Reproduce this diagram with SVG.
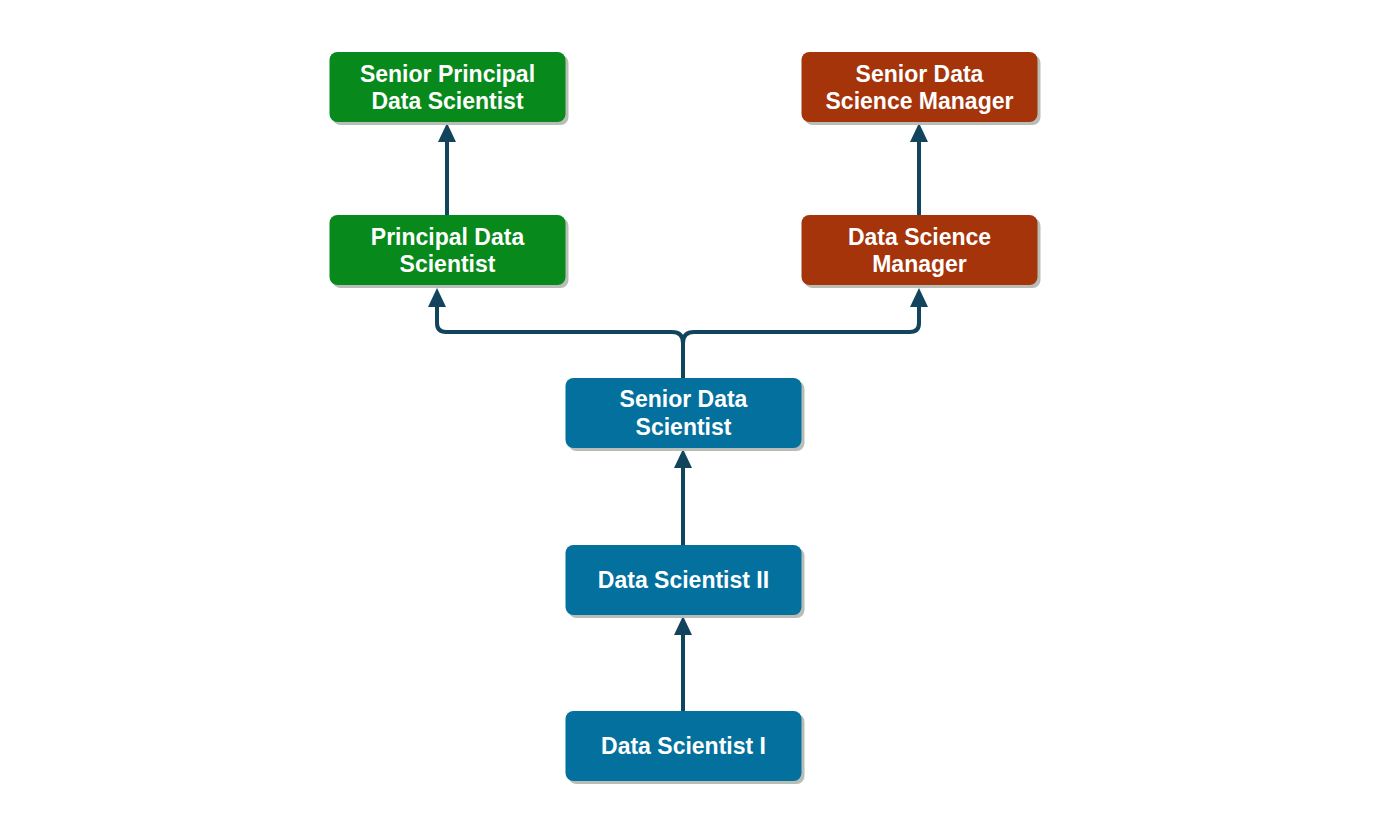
<svg xmlns="http://www.w3.org/2000/svg" width="1400" height="816" viewBox="0 0 1400 816">
<style>
.sh{fill:#b9bdb8}
.g{fill:#07891b}
.r{fill:#a5340a}
.b{fill:#04709d}
text{font-family:"Liberation Sans",Arial,Helvetica,sans-serif;font-weight:bold;font-size:23px;fill:#ffffff;text-anchor:middle}
.c{fill:none;stroke:#12455d;stroke-width:4}
.ah{fill:#12455d}
</style>
<defs>
<marker id="arr" viewBox="0 0 18 18" refX="9" refY="1" markerWidth="18" markerHeight="18" markerUnits="userSpaceOnUse" orient="auto-start-reverse">
<path class="ah" d="M0,18 L9,0 L18,18 Z"/>
</marker>
</defs>
<rect width="1400" height="816" fill="#ffffff"/>
<g id="connectors">
<path class="c" d="M683,378 V343 Q683,332 672,332 H446 Q437,332 437,323 V306"/>
<path class="c" d="M683,343 Q683,332 694,332 H910 Q919,332 919,323 V306"/>
<polygon class="ah" points="437,288 428,307 446,307"/>
<polygon class="ah" points="919,288 910,307 928,307"/>
<path class="c" d="M447,215 V140"/>
<polygon class="ah" points="447,123 438,142 456,142"/>
<path class="c" d="M919,215 V140"/>
<polygon class="ah" points="919,123 910,142 928,142"/>
<path class="c" d="M683,545 V467"/>
<polygon class="ah" points="683,449 674,468 692,468"/>
<path class="c" d="M683,711 V633"/>
<polygon class="ah" points="683,616 674,635 692,635"/>
</g>
<g id="senior-principal">
<rect class="sh" x="332.5" y="55" width="236" height="70" rx="8"/>
<rect class="g" x="329.5" y="52" width="236" height="70" rx="8"/>
<text x="447.5" y="82">Senior Principal</text>
<text x="447.5" y="109">Data Scientist</text>
</g>
<g id="principal">
<rect class="sh" x="332.5" y="218" width="236" height="70" rx="8"/>
<rect class="g" x="329.5" y="215" width="236" height="70" rx="8"/>
<text x="447.5" y="245">Principal Data</text>
<text x="447.5" y="272">Scientist</text>
</g>
<g id="senior-manager">
<rect class="sh" x="804.5" y="55" width="236" height="70" rx="8"/>
<rect class="r" x="801.5" y="52" width="236" height="70" rx="8"/>
<text x="919.5" y="82">Senior Data</text>
<text x="919.5" y="109">Science Manager</text>
</g>
<g id="manager">
<rect class="sh" x="804.5" y="218" width="236" height="70" rx="8"/>
<rect class="r" x="801.5" y="215" width="236" height="70" rx="8"/>
<text x="919.5" y="245">Data Science</text>
<text x="919.5" y="272">Manager</text>
</g>
<g id="senior-ds">
<rect class="sh" x="568.5" y="381" width="236" height="70" rx="8"/>
<rect class="b" x="565.5" y="378" width="236" height="70" rx="8"/>
<text x="683.5" y="407">Senior Data</text>
<text x="683.5" y="435">Scientist</text>
</g>
<g id="ds2">
<rect class="sh" x="568.5" y="548" width="236" height="70" rx="8"/>
<rect class="b" x="565.5" y="545" width="236" height="70" rx="8"/>
<text x="683.5" y="588">Data Scientist II</text>
</g>
<g id="ds1">
<rect class="sh" x="568.5" y="714" width="236" height="70" rx="8"/>
<rect class="b" x="565.5" y="711" width="236" height="70" rx="8"/>
<text x="683.5" y="754">Data Scientist I</text>
</g>
</svg>
